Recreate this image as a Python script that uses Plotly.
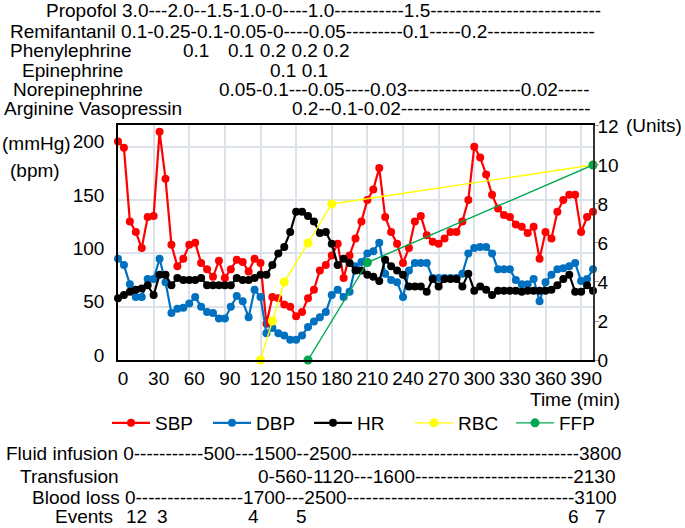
import plotly.graph_objects as go

# ---------------- data ----------------
time_min = [0, 5, 10, 15, 20, 25, 30, 35, 40, 45, 50, 55, 60, 65, 70, 75, 80, 85, 90, 95, 100,
            105, 110, 115, 120, 125, 130, 135, 140, 145, 150, 155, 160, 165, 170, 175, 180, 185, 190, 195, 200,
            205, 210, 215, 220, 225, 230, 235, 240, 245, 250, 255, 260, 265, 270, 275, 280, 285, 290, 295, 300,
            305, 310, 315, 320, 325, 330, 335, 340, 345, 350, 355, 360, 365, 370, 375, 380, 385, 390, 395, 400]

sbp = [205, 199, 130, 120, 105, 134, 135, 214, 170, 108, 88, 95, 108, 110, 91, 85, 78, 93, 77, 85, 94,
       92, 83, 95, 91, 34, 59, 58, 52, 50, 41, 45, 58, 66, 84, 89, 98, 109, 77, 98, 114,
       130, 150, 160, 180, 134, 120, 109, 91, 105, 130, 135, 117, 111, 109, 114, 120, 120, 130, 150, 200,
       190, 174, 155, 142, 136, 134, 127, 125, 119, 125, 95, 120, 114, 139, 150, 155, 155, 120, 134, 139]

dbp = [95, 89, 71, 59, 59, 76, 76, 95, 73, 44, 48, 49, 53, 59, 50, 45, 44, 39, 39, 50, 60,
       55, 40, 66, 59, 25, 30, 25, 23, 19, 19, 23, 31, 36, 40, 45, 61, 66, 59, 64, 88,
       92, 100, 102, 110, 81, 75, 73, 59, 84, 91, 91, 91, 77, 77, 77, 77, 77, 81, 100, 105,
       106, 106, 100, 85, 85, 85, 75, 71, 71, 76, 55, 73, 80, 85, 86, 88, 91, 74, 76, 85]

hr = [58, 61, 64, 66, 67, 70, 61, 80, 80, 70, 77, 75, 75, 75, 77, 70, 70, 70, 70, 70, 77,
      75, 75, 77, 80, 80, 89, 100, 106, 120, 139, 139, 135, 130, 119, 120, 109, 89, 95, 91, 84,
      84, 80, 78, 74, 94, 88, 84, 80, 69, 69, 69, 64, 76, 69, 76, 76, 76, 69, 81, 65,
      69, 66, 61, 65, 65, 65, 65, 64, 65, 65, 65, 65, 66, 70, 76, 80, 64, 64, 70, 65]

rbc_time = [120, 130, 140, 160, 180, 400]
rbc_units = [0, 2, 4, 6, 8, 10]
ffp_time = [160, 210, 400]
ffp_units = [0, 5, 10]

x_ticks = [0, 30, 60, 90, 120, 150, 180, 210, 240, 270, 300, 330, 360, 390]
y_left_ticks = [0, 50, 100, 150, 200]
y_right_ticks = [0, 2, 4, 6, 8, 10, 12]

top_rows = [
    # (text, left px, center y px)
    ("Propofol 3.0---2.0--1.5-1.0-0----1.0-----------1.5---------------------------", 44, 10),
    ("Remifantanil 0.1-0.25-0.1-0.05-0----0.05---------0.1-----0.2-----------------", 8, 31),
    ("Phenylephrine", 8, 50),
    ("0.1", 181, 50),
    ("0.1 0.2 0.2 0.2", 226, 50),
    ("Epinephrine", 20, 70),
    ("0.1 0.1", 268, 70),
    ("Norepinephrine", 11, 89),
    ("0.05-0.1---0.05----0.03------------------0.02-----", 217, 89),
    ("Arginine Vasopressin", 2, 108),
    ("0.2--0.1-0.02------------------------------", 290, 108),
]

bottom_rows = [
    ("Fluid infusion 0-----------500---1500--2500------------------------------------3800", 4, 453),
    ("Transfusion", 18, 476),
    ("0-560-1120---1600-------------------------2130", 256, 476),
    ("Blood loss 0-----------------1700---2500------------------------------------3100", 30, 497),
    ("Events", 53, 516),
    ("12", 124, 516),
    ("3", 155, 516),
    ("4", 246, 516),
    ("5", 294, 516),
    ("6", 566, 516),
    ("7", 593, 516),
]

# ---------------- geometry ----------------
W, H = 685, 528
L, R, T, B = 118, 593, 125, 360
FONT = "Liberation Sans, Arial, sans-serif"
FS = 19


def px_x(x):
    return (x - L) / (R - L)


def px_y(y):
    return (B - y) / (B - T)


fig = go.Figure()

line_w = 2.2
msize = 8
fig.add_trace(go.Scatter(x=time_min, y=sbp, name="SBP", mode="lines+markers",
                         line=dict(color="#ff0000", width=line_w),
                         marker=dict(color="#ff0000", size=msize), cliponaxis=False))
fig.add_trace(go.Scatter(x=time_min, y=dbp, name="DBP", mode="lines+markers",
                         line=dict(color="#0070c0", width=line_w),
                         marker=dict(color="#0070c0", size=msize), cliponaxis=False))
fig.add_trace(go.Scatter(x=time_min, y=hr, name="HR", mode="lines+markers",
                         line=dict(color="#000000", width=line_w),
                         marker=dict(color="#000000", size=msize), cliponaxis=False))
fig.add_trace(go.Scatter(x=rbc_time, y=rbc_units, name="RBC", mode="lines+markers", yaxis="y2",
                         line=dict(color="#ffff00", width=1.4),
                         marker=dict(color="#ffff00", size=msize + 1), cliponaxis=False))
fig.add_trace(go.Scatter(x=ffp_time, y=ffp_units, name="FFP", mode="lines+markers", yaxis="y2",
                         line=dict(color="#00a94f", width=1.4),
                         marker=dict(color="#00a94f", size=msize + 1), cliponaxis=False))

annotations = []
for txt, x, y in top_rows + bottom_rows:
    annotations.append(dict(text=txt, x=px_x(x), y=px_y(y), xref="paper", yref="paper",
                            xanchor="left", yanchor="middle", showarrow=False,
                            font=dict(family=FONT, size=FS, color="black")))
for txt, x, y in [("(mmHg)", 0, 143), ("(bpm)", 8, 170), ("(Units)", 624, 125)]:
    annotations.append(dict(text=txt, x=px_x(x), y=px_y(y), xref="paper", yref="paper",
                            xanchor="left", yanchor="middle", showarrow=False,
                            font=dict(family=FONT, size=FS, color="black")))
annotations.append(dict(text="Time (min)", x=px_x(622), y=px_y(399), xref="paper", yref="paper",
                        xanchor="right", yanchor="middle", showarrow=False,
                        font=dict(family=FONT, size=FS, color="black")))

grid_c = "#dde1ea"
fig.update_layout(
    width=W, height=H,
    margin=dict(l=L, r=W - R, t=T, b=H - B, pad=0),
    paper_bgcolor="white", plot_bgcolor="white",
    font=dict(family=FONT, size=FS, color="black"),
    showlegend=True,
    legend=dict(orientation="h", x=px_x(107), y=px_y(423), xanchor="left", yanchor="middle",
                font=dict(family=FONT, size=FS, color="black"), itemwidth=38,
                entrywidth=48, bgcolor="rgba(0,0,0,0)"),
    xaxis=dict(range=[0, 400], tickvals=x_ticks, showgrid=True, gridcolor=grid_c, gridwidth=2,
               showline=True, linecolor="black", linewidth=1.5, mirror=True, zeroline=False,
               ticks="", ticklabelshift=5, tickfont=dict(family=FONT, size=FS)),
    yaxis=dict(range=[0, 220.4], tickvals=y_left_ticks, showgrid=True, gridcolor=grid_c, gridwidth=2,
               showline=True, linecolor="black", linewidth=1.5, mirror=True, zeroline=False,
               ticks="", ticklabelshift=-5, ticklabelstandoff=8, tickfont=dict(family=FONT, size=FS)),
    yaxis2=dict(range=[0, 12.05], tickvals=y_right_ticks, overlaying="y", side="right",
                showgrid=False, zeroline=False, showline=True, linecolor="#333333", linewidth=1.5,
                ticks="outside", ticklen=4, tickcolor="#999999", tickwidth=1,
                ticklabelstandoff=-5, tickfont=dict(family=FONT, size=FS)),
    annotations=annotations,
)

fig.write_html("out.html", config={"displayModeBar": False},
               post_script="document.body.style.margin='0px';")
